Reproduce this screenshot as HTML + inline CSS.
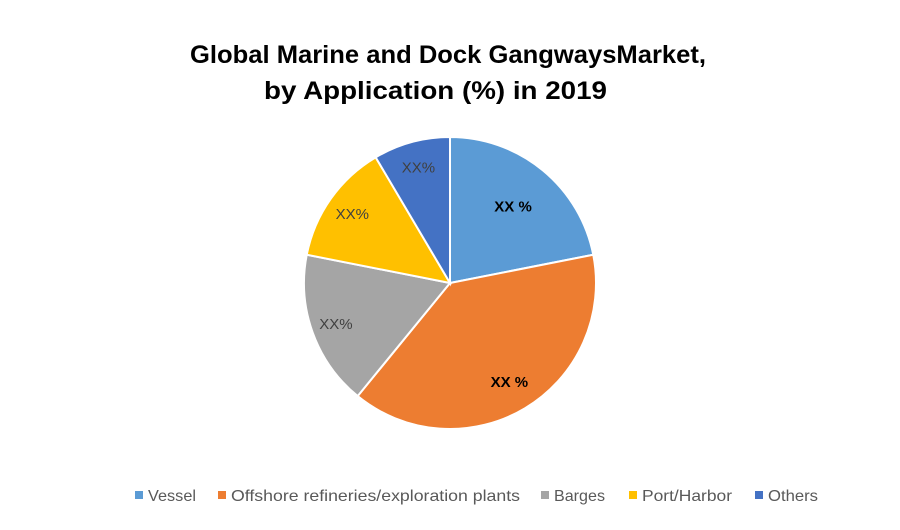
<!DOCTYPE html>
<html><head><meta charset="utf-8"><style>
body{margin:0;background:#fff;}
#c{width:900px;height:525px;position:relative;font-family:"Liberation Sans",sans-serif;}
</style></head><body>
<div id="c">
<svg id="s" width="900" height="525">
<text x="190" y="63" font-size="25" font-weight="bold" fill="#000" textLength="516" lengthAdjust="spacingAndGlyphs">Global Marine and Dock GangwaysMarket,</text>
<text x="264" y="99" font-size="25" font-weight="bold" fill="#000" textLength="343" lengthAdjust="spacingAndGlyphs">by Application (%) in 2019</text>
<g id="slices"></g>
<g id="legend"></g>
</svg>
</div>
<script>
const categories=["Vessel","Offshore refineries/exploration plants","Barges","Port/Harbor","Others"];
const values=[21.9,39.0,17.2,13.4,8.5];
const labels=["XX %","XX %","XX%","XX%","XX%"];
const colors=["#5b9bd5","#ed7d31","#a5a5a5","#ffc000","#4472c4"];
const labelBold=[true,true,false,false,false];
const labelColor=["#000","#000","#404040","#404040","#404040"];
const labelRad=[0.68,0.79,0.83,0.82,0.82];
const cx=450,cy=283,r=146;
const ns="http://www.w3.org/2000/svg";
const g=document.getElementById('slices');
const total=values.reduce((a,b)=>a+b,0);
let a0=0;
function pt(a,rr){return [cx+rr*Math.sin(a),cy-rr*Math.cos(a)];}
values.forEach((v,i)=>{
  const a1=a0+v/total*2*Math.PI;
  const p0=pt(a0,r),p1=pt(a1,r);
  const large=(a1-a0)>Math.PI?1:0;
  const path=document.createElementNS(ns,'path');
  path.setAttribute('d',`M${cx},${cy} L${p0[0]},${p0[1]} A${r},${r} 0 ${large} 1 ${p1[0]},${p1[1]} Z`);
  path.setAttribute('fill',colors[i]);path.setAttribute('stroke','#fff');path.setAttribute('stroke-width','2');
  
  
  g.appendChild(path);
  const am=(a0+a1)/2;const lp=pt(am,r*labelRad[i]);
  const t=document.createElementNS(ns,'text');
  t.setAttribute('x',lp[0]);t.setAttribute('y',lp[1]+5);t.setAttribute('text-anchor','middle');
  t.setAttribute('font-size','15');t.setAttribute('fill',labelColor[i]);
  if(labelBold[i])t.setAttribute('font-weight','bold');
  t.textContent=labels[i];
  
  
  g.appendChild(t);
  a0=a1;
});
const lg=document.getElementById('legend');
const lx=[135,218,541,629,755];
const lw=[48,289,51,90,50];
categories.forEach((c,i)=>{
  const rc=document.createElementNS(ns,'rect');
  rc.setAttribute('x',lx[i]);rc.setAttribute('y',491);rc.setAttribute('width',8);rc.setAttribute('height',8);rc.setAttribute('fill',colors[i]);
  
  
  lg.appendChild(rc);
  const t=document.createElementNS(ns,'text');
  t.setAttribute('x',lx[i]+13);t.setAttribute('y',501);t.setAttribute('font-size','16');t.setAttribute('fill','#595959');
  t.setAttribute('textLength',lw[i]);t.setAttribute('lengthAdjust','spacingAndGlyphs');
  t.textContent=c;
  
  
  lg.appendChild(t);
});
</script>
</body></html>
